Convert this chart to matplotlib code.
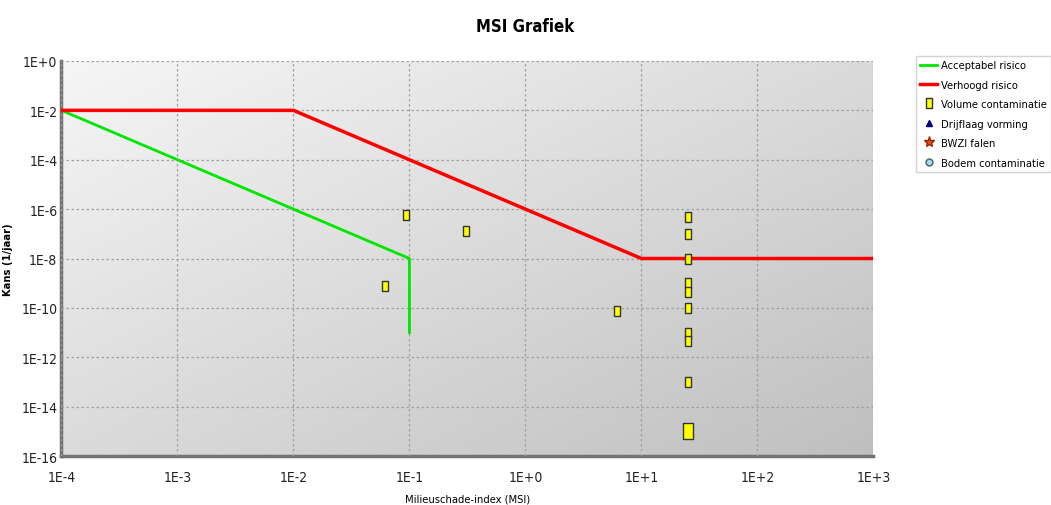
import numpy as np
import matplotlib.pyplot as plt
from matplotlib.ticker import FixedLocator, FuncFormatter
from matplotlib.path import Path

plt.rcParams['font.family'] = ['DejaVu Sans']
plt.rcParams['font.stretch'] = 'condensed'

# risk boundary lines
acc_x = [1e-4, 1e-1, 1e-1]
acc_y = [1e-2, 1e-8, 1e-11]
verh_x = [1e-4, 1e-2, 1e1, 1e3]
verh_y = [1e-2, 1e-2, 1e-8, 1e-8]

# volume contaminatie points
vol_x = [0.093, 0.31, 0.062, 6.2, 25, 25, 25, 25, 25, 25, 25, 25, 25]
vol_y = [6e-7, 1.35e-7, 7.5e-10, 7.5e-11, 4.8e-7, 1e-7, 1e-8, 1e-9, 4.6e-10,
         1e-10, 1e-11, 4.7e-12, 1e-13]
big_x = [25]
big_y = [1e-15]

x_ticks = [1e-4, 1e-3, 1e-2, 1e-1, 1e0, 1e1, 1e2, 1e3]
y_ticks = [1e-16, 1e-14, 1e-12, 1e-10, 1e-8, 1e-6, 1e-4, 1e-2, 1e0]


def fmt(v, pos):
    e = int(round(np.log10(v)))
    return "1E+%d" % e if e >= 0 else "1E%d" % e


rect = Path([(-0.6, -1), (0.6, -1), (0.6, 1), (-0.6, 1), (-0.6, -1)],
            [Path.MOVETO, Path.LINETO, Path.LINETO, Path.LINETO, Path.CLOSEPOLY])

fig = plt.figure(figsize=(10.51, 5.06), dpi=100)
ax = fig.add_axes([0.0585, 0.0968, 0.7725, 0.7807])

# gradient background, light top-left to grey bottom-right
gx, gy = np.meshgrid(np.linspace(0, 1, 200), np.linspace(0, 1, 200))
t = (gx + gy) / 2
shade = 0.965 - 0.215 * t
bg = np.dstack([shade, shade, shade])
ax.imshow(bg, extent=[0, 1, 0, 1], transform=ax.transAxes, aspect='auto',
          zorder=0, origin='upper')

ax.set_xscale('log')
ax.set_yscale('log')
ax.set_xlim(1e-4, 1e3)
ax.set_ylim(1e-16, 1e0)

ax.plot(acc_x, acc_y, color='#00e600', lw=2, label='Acceptabel risico', zorder=3)
ax.plot(verh_x, verh_y, color='#ff0000', lw=2.5, label='Verhoogd risico', zorder=3)
ax.plot(vol_x, vol_y, ls='none', marker=rect, ms=7, mfc='#ffff00', mec='#333333',
        mew=1, label='Volume contaminatie', zorder=4)
ax.plot(big_x, big_y, ls='none', marker=rect, ms=11, mfc='#ffff00', mec='#333333',
        mew=1, zorder=4)
ax.plot([], [], ls='none', marker='^', ms=5, mfc='#0000aa', mec='#000066',
        label='Drijflaag vorming')
ax.plot([], [], ls='none', marker='*', ms=8, mfc='#e05010', mec='#a02000',
        label='BWZI falen')
ax.plot([], [], ls='none', marker='o', ms=5, mfc='#a8d8e0', mec='#406070',
        label='Bodem contaminatie')

ax.xaxis.set_major_locator(FixedLocator(x_ticks))
ax.yaxis.set_major_locator(FixedLocator(y_ticks))
ax.xaxis.set_minor_locator(FixedLocator([]))
ax.yaxis.set_minor_locator(FixedLocator([]))
ax.xaxis.set_major_formatter(FuncFormatter(fmt))
ax.yaxis.set_major_formatter(FuncFormatter(fmt))
ax.tick_params(length=0, labelsize=10, colors='#222222', pad=3)
ax.tick_params(axis='x', pad=10)
ax.grid(True, color='#a0a0a0', ls=(0, (2, 2)), lw=0.9, zorder=1)
ax.set_axisbelow(False)

for s in ['top', 'right']:
    ax.spines[s].set_visible(False)
for s in ['left', 'bottom']:
    ax.spines[s].set_color('#707070')
    ax.spines[s].set_linewidth(2.5)

ax.set_xlabel('Milieuschade-index (MSI)', fontsize=8, labelpad=7)
ax.set_ylabel('Kans (1/jaar)', fontsize=8, fontweight='bold', labelpad=6)
fig.suptitle('MSI Grafiek', fontsize=12, fontweight='bold', y=0.965)

leg = fig.legend(loc='upper left', bbox_to_anchor=(916 / 1051, 1 - 57 / 506),
                 fontsize=8, frameon=True, fancybox=False, edgecolor='#c8c8c8',
                 handlelength=1.5, handletextpad=0.35, borderpad=0.4,
                 labelspacing=0.85, borderaxespad=0)
leg.get_frame().set_linewidth(1)

fig.savefig('out.png', dpi=100)
